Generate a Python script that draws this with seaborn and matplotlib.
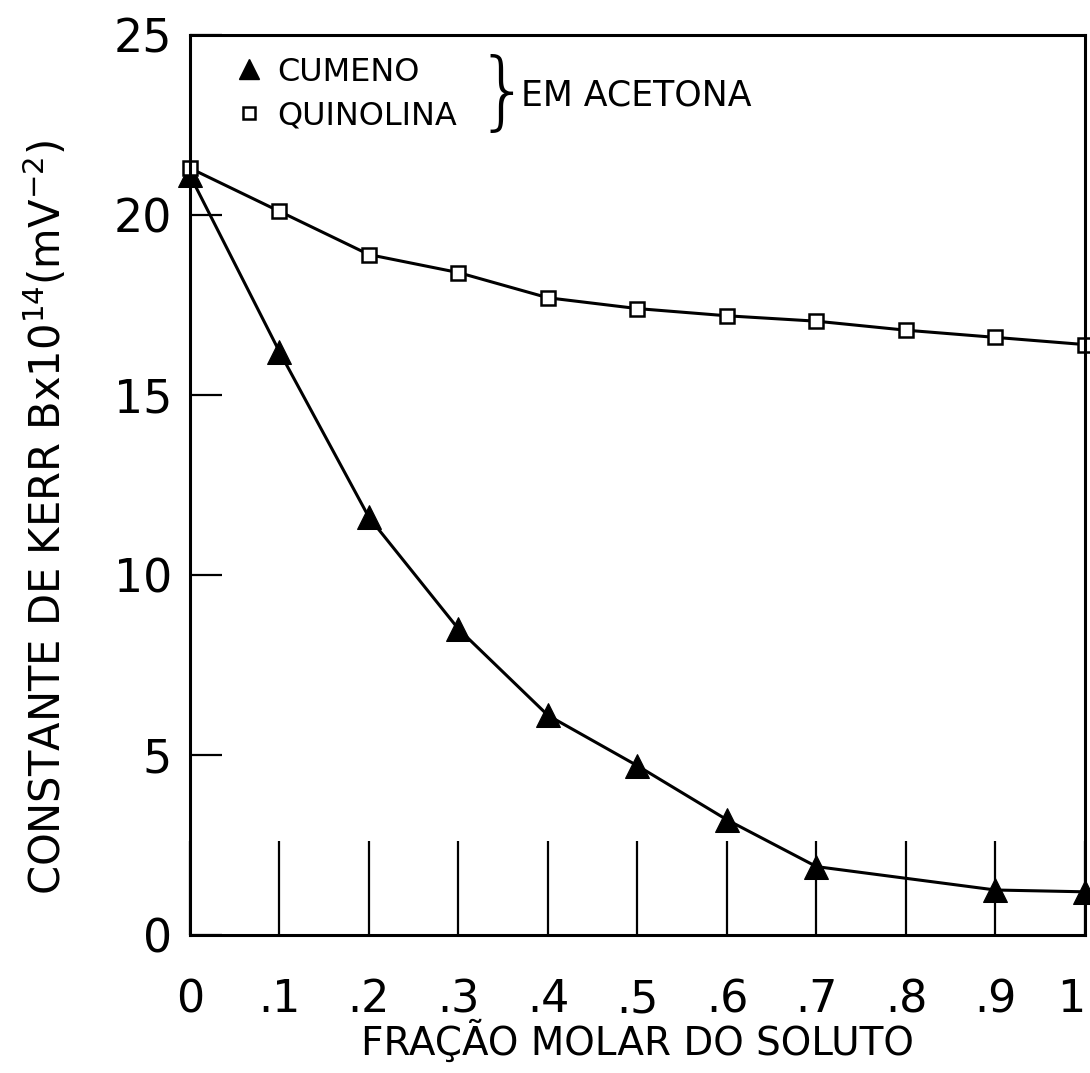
import matplotlib
matplotlib.use("Agg")
import matplotlib.pyplot as plt
import seaborn as sns
import pandas as pd
from matplotlib.lines import Line2D

fracao = [0.0, 0.1, 0.2, 0.3, 0.4, 0.5, 0.6, 0.7, 0.9, 1.0]
cumeno = [21.1, 16.2, 11.6, 8.5, 6.1, 4.7, 3.2, 1.9, 1.25, 1.2]

fracao_q = [0.0, 0.1, 0.2, 0.3, 0.4, 0.5, 0.6, 0.7, 0.8, 0.9, 1.0]
quinolina = [21.3, 20.1, 18.9, 18.4, 17.7, 17.4, 17.2, 17.05, 16.8, 16.6, 16.4]

x_ticks = [0, 0.1, 0.2, 0.3, 0.4, 0.5, 0.6, 0.7, 0.8, 0.9, 1.0]
x_labels = ["0", ".1", ".2", ".3", ".4", ".5", ".6", ".7", ".8", ".9", "1"]
y_ticks = [0, 5, 10, 15, 20, 25]
y_labels = ["0", "5", "10", "15", "20", "25"]

sns.set_style("white")
plt.rcParams['font.family'] = ['DejaVu Sans']
plt.rcParams['text.color'] = 'black'
plt.rcParams['axes.labelcolor'] = 'black'
plt.rcParams['xtick.color'] = 'black'
plt.rcParams['ytick.color'] = 'black'

fig = plt.figure(figsize=(10.9, 10.73), dpi=100)
ax = fig.add_axes([0.1743, 0.1286, 0.8211, 0.8388])

df_c = pd.DataFrame({"x": fracao, "y": cumeno})
df_q = pd.DataFrame({"x": fracao_q, "y": quinolina})

sns.lineplot(data=df_c, x="x", y="y", ax=ax, color="black", lw=2.2,
             marker="^", markersize=17, markerfacecolor="black",
             markeredgecolor="black", clip_on=False)
sns.lineplot(data=df_q, x="x", y="y", ax=ax, color="black", lw=2.2,
             marker="s", markersize=10, markerfacecolor="white",
             markeredgecolor="black", markeredgewidth=1.8, clip_on=False)

ax.set_xlim(0, 1)
ax.set_ylim(0, 25)
ax.set_xticks(x_ticks)
ax.set_xticklabels(x_labels)
ax.set_yticks(y_ticks)
ax.set_yticklabels(y_labels)
ax.get_xticklabels()[-1].set_horizontalalignment("right")

ax.tick_params(axis="x", direction="in", length=68, width=1.6, pad=31,
               labelsize=32, colors="black", bottom=True)
ax.tick_params(axis="y", direction="in", length=23, width=1.6, pad=13,
               labelsize=33, colors="black", left=True)
for s in ax.spines.values():
    s.set_visible(True)
    s.set_color("black")
    s.set_linewidth(2.2)

ax.set_xlabel("FRAÇÃO MOLAR DO SOLUTO", fontsize=28)
ax.xaxis.set_label_coords(0.5, -0.094)
ax.set_ylabel(r"CONSTANTE DE KERR Bx10$^{14}$(mV$^{-2}$)", fontsize=30)
ax.yaxis.set_label_coords(-0.134, 0.464)

handles = [
    Line2D([], [], ls="none", marker="^", markersize=15, color="black"),
    Line2D([], [], ls="none", marker="s", markersize=9, markerfacecolor="white",
           markeredgecolor="black", markeredgewidth=1.8),
]
leg = ax.legend(handles, ["CUMENO", "QUINOLINA"], loc="upper left",
                bbox_to_anchor=(0.019, 1.008), frameon=False, fontsize=23,
                handlelength=0.8, handletextpad=0.5, labelspacing=0.4)
ax.text(0.349, 0.933, "}", transform=ax.transAxes, fontsize=62,
        va="center", ha="center", fontweight="light")
ax.text(0.370, 0.933, "EM ACETONA", transform=ax.transAxes, fontsize=25,
        va="center", ha="left")

fig.savefig("out.png", dpi=100)
